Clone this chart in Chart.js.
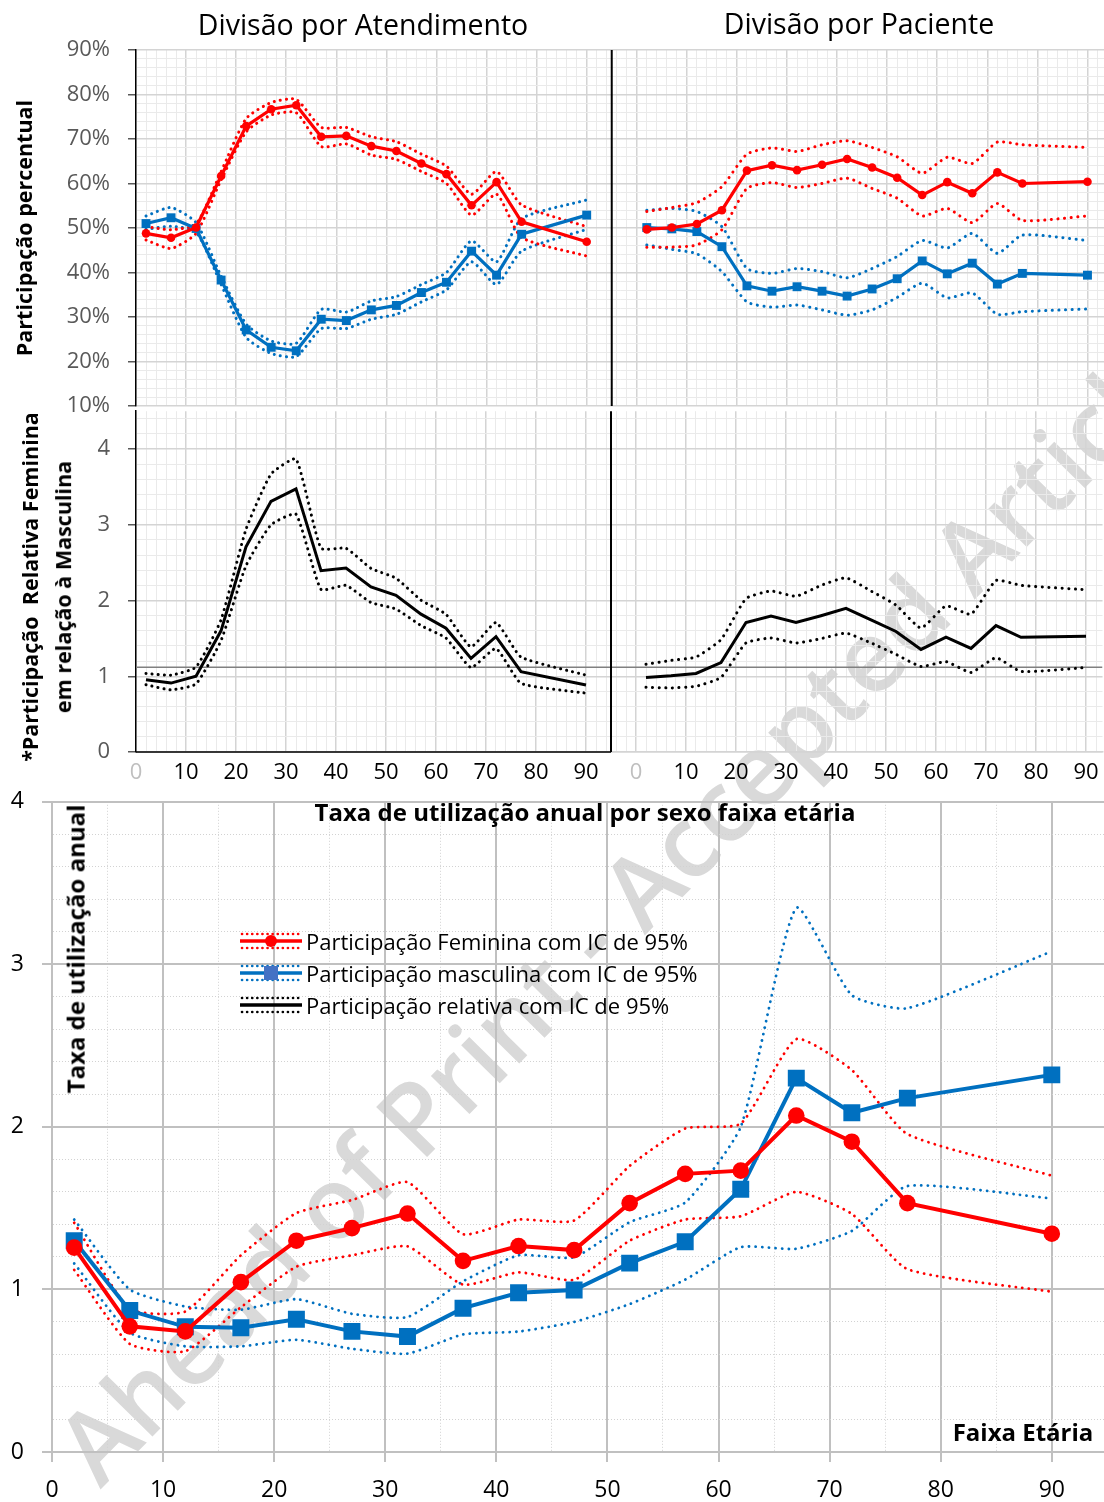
<!DOCTYPE html>
<html lang="pt">
<head>
<meta charset="utf-8">
<title>Participação por sexo e faixa etária</title>
<script src="https://cdn.jsdelivr.net/npm/chart.js@4.4.1/dist/chart.umd.min.js"></script>
<style>
  html, body { margin: 0; padding: 0; background: #fff; }
  body { width: 1104px; height: 1502px; position: relative; overflow: hidden; font-family: "Open Sans", sans-serif; }
  .wm { position: absolute; left: 37px; top: 1427px; transform-origin: 0 0; transform: rotate(-45.5deg);
        font-size: 100px; font-weight: 600; color: #d9d9d9; white-space: nowrap; line-height: 1; z-index: 0; }
  canvas { position: absolute; left: 0; z-index: 1; }
  .txt { position: absolute; z-index: 2; white-space: pre; line-height: 1.2; transform: translate(-50%, -50%); color: #000; }
  .rot { transform: translate(-50%, -50%) rotate(-90deg); }
  .b { font-weight: 700; }
  .leg { position: absolute; z-index: 2; left: 240px; height: 22px; display: flex; align-items: center; transform: translateY(-50%); }
  .leg span { font-size: 22px; line-height: 1.2; margin-left: 4px; white-space: nowrap; }
</style>
</head>
<body>
<div class="wm">Ahead of Print - Accepted Article</div>

<canvas id="cTop" width="1104" height="440" style="top:0"></canvas>
<canvas id="cMid" width="1104" height="420" style="top:380px"></canvas>
<canvas id="cBot" width="1104" height="732" style="top:770px"></canvas>

<div class="txt" style="left:363px; top:24px; font-size:28.5px">Divisão por Atendimento</div>
<div class="txt" style="left:859px; top:23px; font-size:28.5px">Divisão por Paciente</div>
<div class="txt rot b" style="left:24px; top:228px; font-size:21.5px">Participação percentual</div>
<div class="txt rot b" style="left:30px; top:587px; font-size:21.5px">*Participação  Relativa Feminina</div>
<div class="txt rot b" style="left:63px; top:587px; font-size:21.5px">em relação à Masculina</div>
<div class="txt rot b" style="left:76px; top:949px; font-size:24px">Taxa de utilização anual</div>
<div class="txt b" style="left:585px; top:812px; font-size:24px">Taxa de utilização anual por sexo faixa etária</div>
<div class="txt b" style="left:1023px; top:1432px; font-size:24px">Faixa Etária</div>

<div class="leg" style="top:941px">
  <svg width="62" height="22" viewBox="0 0 62 22">
    <line x1="2" y1="4" x2="60" y2="4" stroke="#ff0000" stroke-width="2.6" stroke-dasharray="0.1 5" stroke-linecap="round"/>
    <line x1="0" y1="11" x2="62" y2="11" stroke="#ff0000" stroke-width="3.5"/>
    <line x1="2" y1="18" x2="60" y2="18" stroke="#ff0000" stroke-width="2.6" stroke-dasharray="0.1 5" stroke-linecap="round"/>
    <circle cx="31" cy="11" r="6" fill="#ff0000"/>
  </svg>
  <span>Participação Feminina com IC de 95%</span>
</div>
<div class="leg" style="top:973px">
  <svg width="62" height="22" viewBox="0 0 62 22">
    <line x1="2" y1="4" x2="60" y2="4" stroke="#0070c0" stroke-width="2.6" stroke-dasharray="0.1 5" stroke-linecap="round"/>
    <line x1="0" y1="11" x2="62" y2="11" stroke="#0070c0" stroke-width="3.5"/>
    <line x1="2" y1="18" x2="60" y2="18" stroke="#0070c0" stroke-width="2.6" stroke-dasharray="0.1 5" stroke-linecap="round"/>
    <rect x="24" y="4" width="14" height="14" fill="#4472c4"/>
  </svg>
  <span>Participação masculina com IC de 95%</span>
</div>
<div class="leg" style="top:1005px">
  <svg width="62" height="22" viewBox="0 0 62 22">
    <line x1="2" y1="4" x2="60" y2="4" stroke="#000" stroke-width="2.6" stroke-dasharray="0.1 5" stroke-linecap="round"/>
    <line x1="0" y1="11" x2="62" y2="11" stroke="#000" stroke-width="3.5"/>
    <line x1="2" y1="18" x2="60" y2="18" stroke="#000" stroke-width="2.6" stroke-dasharray="0.1 5" stroke-linecap="round"/>
  </svg>
  <span>Participação relativa com IC de 95%</span>
</div>

<script>
// faixas etárias (ponto médio); o painel "Paciente" é desenhado com idade + 100
const ages = [2, 7, 12, 17, 22, 27, 32, 37, 42, 47, 52, 57, 62, 67, 72, 77, 90];

// Divisão por Atendimento (%)
const atendFem    = [48.8, 47.8, 50.1, 61.7, 72.9, 76.7, 77.6, 70.5, 70.7, 68.4, 67.3, 64.5, 62.1, 55.1, 60.3, 51.4, 46.9];
const atendFemSup = [50.3, 49.6, 50.9, 62.7, 74.6, 78.2, 78.9, 72.6, 72.6, 70.5, 69.4, 66.6, 63.9, 57.6, 62.7, 55.2, 50.3];
const atendFemInf = [47.3, 45.4, 48.8, 60.8, 71.6, 75.4, 75.9, 68.3, 68.9, 66.4, 65.4, 62.7, 60.0, 52.9, 57.6, 47.9, 43.7];
const atendMas    = [51.0, 52.3, 49.9, 38.3, 27.1, 23.2, 22.4, 29.5, 29.2, 31.6, 32.6, 35.5, 37.8, 44.8, 39.4, 48.6, 52.9];
const atendMasSup = [52.7, 54.6, 51.2, 39.2, 28.4, 24.6, 24.1, 31.7, 31.1, 33.6, 34.6, 37.3, 40.0, 47.1, 42.4, 52.1, 56.3];
const atendMasInf = [49.7, 50.4, 49.1, 37.3, 25.4, 21.8, 21.1, 27.4, 27.4, 29.5, 30.6, 33.4, 36.1, 42.4, 37.3, 44.8, 49.7];

// Divisão por Paciente (%)
const pacFem    = [49.7, 50.1, 50.9, 54.0, 62.9, 64.1, 63.0, 64.2, 65.5, 63.6, 61.3, 57.4, 60.3, 57.8, 62.5, 60.0, 60.4];
const pacFemSup = [53.7, 54.6, 55.7, 59.3, 66.6, 68.0, 67.2, 68.7, 69.6, 68.1, 66.0, 62.3, 65.9, 64.5, 69.3, 68.7, 68.1];
const pacFemInf = [45.7, 45.7, 46.2, 49.6, 58.9, 60.2, 59.1, 60.0, 61.2, 58.9, 56.7, 52.7, 54.4, 51.2, 55.5, 51.7, 52.7];
const pacMas    = [50.1, 49.8, 49.2, 45.8, 37.0, 35.8, 36.8, 35.8, 34.7, 36.3, 38.6, 42.6, 39.7, 42.1, 37.4, 39.8, 39.4];
const pacMasSup = [54.0, 54.4, 53.7, 50.3, 40.9, 39.8, 40.9, 40.2, 38.8, 40.9, 43.6, 47.2, 45.5, 48.8, 44.3, 48.4, 47.2];
const pacMasInf = [46.2, 45.2, 44.2, 40.2, 33.4, 32.2, 32.7, 31.6, 30.4, 31.6, 34.4, 37.6, 34.3, 35.4, 30.6, 31.2, 31.8];

// participação relativa feminina / masculina
const atendRazao    = [0.954, 0.91, 1.0, 1.60, 2.71, 3.31, 3.475, 2.395, 2.43, 2.18, 2.07, 1.82, 1.635, 1.236, 1.523, 1.06, 0.885];
const atendRazaoSup = [1.037, 1.015, 1.12, 1.744, 2.94, 3.67, 3.87, 2.69, 2.69, 2.425, 2.295, 2.005, 1.818, 1.388, 1.71, 1.254, 1.015];
const atendRazaoInf = [0.889, 0.82, 0.898, 1.47, 2.46, 3.0, 3.14, 2.147, 2.2, 1.974, 1.887, 1.67, 1.505, 1.115, 1.367, 0.907, 0.777];
const pacRazao    = [0.985, 1.007, 1.037, 1.18, 1.71, 1.796, 1.71, 1.80, 1.896, 1.744, 1.592, 1.354, 1.518, 1.367, 1.67, 1.514, 1.527];
const pacRazaoSup = [1.158, 1.21, 1.254, 1.484, 2.026, 2.126, 2.056, 2.2, 2.3, 2.126, 1.94, 1.636, 1.93, 1.818, 2.265, 2.2, 2.143];
const pacRazaoInf = [0.855, 0.846, 0.868, 0.985, 1.44, 1.505, 1.44, 1.497, 1.57, 1.44, 1.289, 1.128, 1.193, 1.05, 1.245, 1.063, 1.115];
const refRazao = 1.12;

// taxa de utilização anual
const taxaFem    = [1.257, 0.773, 0.742, 1.045, 1.30, 1.377, 1.467, 1.176, 1.267, 1.242, 1.531, 1.711, 1.731, 2.07, 1.909, 1.531, 1.343];
const taxaFemSup = [1.41, 0.88, 0.864, 1.21, 1.47, 1.55, 1.66, 1.34, 1.43, 1.424, 1.76, 1.99, 2.02, 2.54, 2.35, 1.956, 1.70];
const taxaFemInf = [1.12, 0.665, 0.62, 0.89, 1.14, 1.21, 1.265, 1.03, 1.105, 1.06, 1.30, 1.43, 1.45, 1.60, 1.465, 1.125, 0.986];
const taxaMas    = [1.30, 0.87, 0.77, 0.765, 0.816, 0.742, 0.71, 0.885, 0.98, 0.996, 1.162, 1.293, 1.616, 2.30, 2.087, 2.177, 2.32];
const taxaMasSup = [1.43, 1.0, 0.895, 0.875, 0.94, 0.85, 0.83, 1.05, 1.21, 1.198, 1.414, 1.535, 2.0, 3.347, 2.81, 2.73, 3.08];
const taxaMasInf = [1.16, 0.735, 0.65, 0.65, 0.69, 0.635, 0.605, 0.723, 0.741, 0.80, 0.91, 1.06, 1.26, 1.25, 1.36, 1.636, 1.56];

const RED = '#ff0000', BLUE = '#0070c0', BLACK = '#000000';
const GRID_MAJ = '#d4d4d4', GRID_MIN = '#eaeaea';
const xMaxTop = 193.3;   // 0-95 atendimento, 100-193 paciente
const xMaxBot = 94.7;

Chart.defaults.font.family = '"Open Sans", sans-serif';
Chart.defaults.animation = false;
Chart.defaults.events = [];
Chart.defaults.plugins.legend.display = false;
Chart.defaults.plugins.tooltip.enabled = false;

function isMult(v, m) {
    return Math.abs(v / m - Math.round(v / m)) < 1e-6;
}

function pts(ys, off) {
    return ages.map((a, i) => ({ x: a + off, y: ys[i] }));
}

// ticks fixos (evita o tick extra que o Chart.js coloca no limite do eixo)
function fixedTicks(from, to, step) {
    return scale => {
        const t = [];
        const n = Math.round((to - from) / step);
        for (let i = 0; i <= n; i++) t.push({ value: Math.round((from + i * step) * 1000) / 1000 });
        scale.ticks = t;
    };
}

function solid(data, color, style, r, w) {
    return {
        data: data, borderColor: color, backgroundColor: color, borderWidth: w,
        pointStyle: style, pointRadius: r, pointBorderWidth: 0, tension: 0
    };
}

function dotted(data, color, w, gap, tension) {
    return {
        data: data, borderColor: color, borderWidth: w, borderDash: [0.1, gap],
        borderCapStyle: 'round', pointRadius: 0, tension: tension
    };
}

// linha divisória entre os painéis e eixo x preto do painel esquerdo
const divider = {
    id: 'divider',
    afterDatasetsDraw(chart, args, opts) {
        const { ctx, chartArea } = chart;
        const px = chart.scales.x.getPixelForValue(opts.at);
        ctx.save();
        ctx.strokeStyle = '#000';
        ctx.lineWidth = 2;
        ctx.beginPath();
        ctx.moveTo(px, chartArea.top);
        ctx.lineTo(px, chartArea.bottom);
        ctx.stroke();
        if (opts.baseline) {
            ctx.lineWidth = 1.5;
            ctx.beginPath();
            ctx.moveTo(chartArea.left, chartArea.bottom);
            ctx.lineTo(px, chartArea.bottom);
            ctx.stroke();
        }
        ctx.restore();
    }
};

function topXAxis(showLabels, height) {
    return {
        type: 'linear', min: 0, max: xMaxTop,
        afterBuildTicks: fixedTicks(0, 192, 2),
        afterFit: s => { s.height = height; },
        border: { display: showLabels, color: GRID_MAJ, width: 1.5 },
        grid: {
            drawTicks: false,
            color: c => !c.tick ? 'transparent' : isMult(c.tick.value, 10) ? GRID_MAJ : GRID_MIN,
            lineWidth: c => c.tick && isMult(c.tick.value, 10) ? 1.5 : 1
        },
        ticks: {
            display: showLabels, autoSkip: false, maxRotation: 0, minRotation: 0, padding: 8,
            font: { size: 22 },
            color: c => c.tick && isMult(c.tick.value, 100) ? '#bfbfbf' : '#000',
            callback: v => {
                if (!isMult(v, 10)) return '';
                return String(Math.round(v) % 100);
            }
        }
    };
}

function topYAxis(min, max, tickMax, step, major, fmt) {
    return {
        min: min, max: max,
        afterBuildTicks: fixedTicks(min, tickMax, step),
        afterFit: s => { s.width = 136; },
        border: { color: '#000', width: 1.5 },
        grid: {
            tickLength: 8,
            tickColor: c => c.tick && isMult(c.tick.value, major) ? '#595959' : 'transparent',
            color: c => !c.tick ? 'transparent' : isMult(c.tick.value, major) ? GRID_MAJ : GRID_MIN,
            lineWidth: c => c.tick && isMult(c.tick.value, major) ? 1.5 : 1
        },
        ticks: {
            autoSkip: false, padding: 18, color: '#595959', font: { size: 22 },
            callback: v => isMult(v, major) ? fmt(Math.round(v)) : ''
        }
    };
}

// painel superior: participação percentual
new Chart(document.getElementById('cTop'), {
    type: 'line',
    data: {
        datasets: [
            solid(pts(atendFem, 0), RED, 'circle', 4.3, 3.2),
            solid(pts(atendMas, 0), BLUE, 'rect', 6.3, 3.2),
            solid(pts(pacFem, 100), RED, 'circle', 4.3, 3.2),
            solid(pts(pacMas, 100), BLUE, 'rect', 6.3, 3.2),
            dotted(pts(atendFemSup, 0), RED, 3, 6, 0.2),
            dotted(pts(atendFemInf, 0), RED, 3, 6, 0.2),
            dotted(pts(atendMasSup, 0), BLUE, 3, 6, 0.2),
            dotted(pts(atendMasInf, 0), BLUE, 3, 6, 0.2),
            dotted(pts(pacFemSup, 100), RED, 3, 6.5, 0.2),
            dotted(pts(pacFemInf, 100), RED, 3, 6.5, 0.2),
            dotted(pts(pacMasSup, 100), BLUE, 3, 6.5, 0.2),
            dotted(pts(pacMasInf, 100), BLUE, 3, 6.5, 0.2)
        ]
    },
    options: {
        responsive: false,
        devicePixelRatio: 1,
        layout: { autoPadding: false, padding: { top: 50, left: 0, right: 0, bottom: 0 } },
        scales: {
            x: topXAxis(false, 34),
            y: topYAxis(10, 90, 90, 2, 10, v => v + '%')
        },
        plugins: { divider: { at: 95, baseline: false } }
    },
    plugins: [divider]
});

// painel do meio: participação relativa
new Chart(document.getElementById('cMid'), {
    type: 'line',
    data: {
        datasets: [
            solid(pts(atendRazao, 0), BLACK, 'circle', 0, 3),
            solid(pts(pacRazao, 100), BLACK, 'circle', 0, 3),
            dotted(pts(atendRazaoSup, 0), BLACK, 3, 6, 0.15),
            dotted(pts(atendRazaoInf, 0), BLACK, 3, 6, 0.15),
            dotted(pts(pacRazaoSup, 100), BLACK, 3, 6.5, 0.15),
            dotted(pts(pacRazaoInf, 100), BLACK, 3, 6.5, 0.15),
            {
                data: [{ x: 0, y: refRazao }, { x: xMaxTop, y: refRazao }],
                borderColor: '#808080', borderWidth: 1.5, pointRadius: 0
            }
        ]
    },
    options: {
        responsive: false,
        devicePixelRatio: 1,
        layout: { autoPadding: false, padding: { top: 26, left: 0, right: 0, bottom: 0 } },
        scales: {
            x: topXAxis(true, 48),
            y: topYAxis(0, 4.5, 4.4, 0.2, 1, v => String(v))
        },
        plugins: { divider: { at: 95, baseline: true } }
    },
    plugins: [divider]
});

// painel inferior: taxa de utilização anual
const BOT_MAJ = '#c0c0c0', BOT_MIN = '#d2d2d2';

function botGrid(major) {
    return {
        tickLength: 10,
        tickWidth: 2,
        tickColor: c => c.tick && isMult(c.tick.value, major) ? BOT_MAJ : 'transparent',
        color: c => !c.tick ? 'transparent' : isMult(c.tick.value, major) ? BOT_MAJ : BOT_MIN,
        lineWidth: c => c.tick && isMult(c.tick.value, major) ? 2 : 1
    };
}

function botBorder(major) {
    return {
        color: BOT_MAJ, width: 2,
        dash: c => c.tick && !isMult(c.tick.value, major) ? [1, 2] : []
    };
}

new Chart(document.getElementById('cBot'), {
    type: 'line',
    data: {
        datasets: [
            solid(pts(taxaFem, 0), RED, 'circle', 8.3, 4),
            solid(pts(taxaMas, 0), BLUE, 'rect', 12, 4),
            dotted(pts(taxaFemSup, 0), RED, 2.8, 6.5, 0.18),
            dotted(pts(taxaFemInf, 0), RED, 2.8, 6.5, 0.18),
            dotted(pts(taxaMasSup, 0), BLUE, 2.8, 6.5, 0.18),
            dotted(pts(taxaMasInf, 0), BLUE, 2.8, 6.5, 0.18)
        ]
    },
    options: {
        responsive: false,
        devicePixelRatio: 1,
        layout: { autoPadding: false, padding: { top: 20, left: 0, right: 0, bottom: 0 } },
        scales: {
            x: {
                type: 'linear', min: 0, max: xMaxBot,
                afterBuildTicks: fixedTicks(0, 90, 5),
                afterFit: s => { s.height = 50; },
                border: botBorder(10),
                grid: botGrid(10),
                ticks: {
                    autoSkip: false, maxRotation: 0, minRotation: 0, padding: 15,
                    color: '#000', font: { size: 23 },
                    callback: v => isMult(v, 10) ? String(Math.round(v)) : ''
                }
            },
            y: {
                min: 0, max: 4,
                afterBuildTicks: fixedTicks(0, 4, 0.2),
                afterFit: s => { s.width = 52; },
                border: botBorder(1),
                grid: botGrid(1),
                ticks: {
                    autoSkip: false, padding: 18, color: '#000', font: { size: 23 },
                    callback: v => isMult(v, 1) ? String(Math.round(v)) : ''
                }
            }
        }
    }
});
</script>
</body>
</html>
